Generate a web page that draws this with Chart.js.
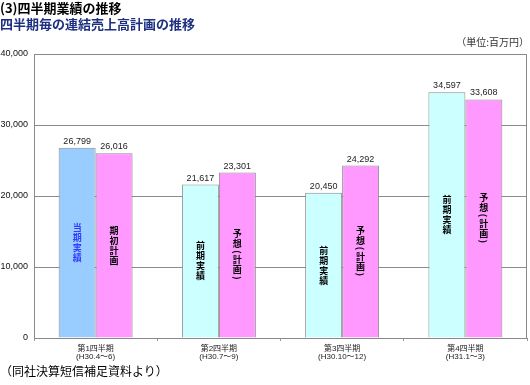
<!DOCTYPE html>
<html>
<head>
<meta charset="utf-8">
<script src="https://cdn.jsdelivr.net/npm/chart.js@4.4.1/dist/chart.umd.min.js"></script>
<style>
  body { margin: 0; background: #fff; }
  #wrap { position: relative; width: 530px; height: 385px; font-family: "Noto Sans CJK JP", sans-serif; }
  #grafica { position: absolute; left: 0; top: 0; }
  .txt { position: absolute; white-space: nowrap; line-height: 1; }
  #titulo { left: 0; top: 1px; font-size: 13px; font-weight: bold; color: #000; }
  #subtitulo { left: 0; top: 17px; font-size: 13px; font-weight: bold; color: #1c2f80; }
  #unidad { right: 1px; top: 37px; font-size: 10px; color: #333; }
  #fuente { left: 0; top: 365px; font-size: 12px; color: #000; }
</style>
</head>
<body>
<div id="wrap">
  <canvas id="grafica" width="530" height="385"></canvas>
  <div class="txt" id="titulo">(3)四半期業績の推移</div>
  <div class="txt" id="subtitulo">四半期毎の連結売上高計画の推移</div>
  <div class="txt" id="unidad">（単位:百万円）</div>
  <div class="txt" id="fuente">（同社決算短信補足資料より）</div>
</div>
<script>
// Datos del gráfico
var trimestres = [['第1四半期', '(H30.4～6)'], ['第2四半期', '(H30.7～9)'], ['第3四半期', '(H30.10～12)'], ['第4四半期', '(H31.1～3)']];
var valoresReales = [26799, 21617, 20450, 34597];
var valoresPlan = [26016, 23301, 24292, 33608];
var etiquetasReales = ['当期実績', '前期実績', '前期実績', '前期実績'];
var etiquetasPlan = ['期初計画', '予想(計画)', '予想(計画)', '予想(計画)'];
var coloresReales = ['#99ccff', '#ccffff', '#ccffff', '#ccffff'];
var coloresTextoReales = ['#2f3cff', '#000', '#000', '#000'];

var fuenteNum = '"Liberation Sans", Arial, "Noto Sans CJK JP", sans-serif';

// Marco alrededor del área del gráfico
var marco = {
    id: 'marco',
    afterDraw: function (chart) {
        var a = chart.chartArea, ctx = chart.ctx;
        ctx.save();
        ctx.strokeStyle = '#8a8a8a';
        ctx.lineWidth = 1;
        ctx.strokeRect(a.left + 0.5, a.top + 0.5, a.right - a.left - 1, a.bottom - a.top);
        ctx.restore();
    }
};

// Valores encima de las barras y texto vertical dentro
var etiquetas = {
    id: 'etiquetas',
    afterDatasetsDraw: function (chart) {
        var ctx = chart.ctx;
        ctx.save();
        chart.data.datasets.forEach(function (ds, i) {
            var meta = chart.getDatasetMeta(i);
            meta.data.forEach(function (bar, j) {
                // valor
                ctx.font = '9px ' + fuenteNum;
                ctx.fillStyle = '#222';
                ctx.textAlign = 'center';
                ctx.textBaseline = 'bottom';
                ctx.fillText(ds.data[j].toLocaleString('en-US'), bar.x, bar.y - 2);

                // texto vertical
                var texto = i === 0 ? etiquetasReales[j] : etiquetasPlan[j];
                var color = i === 0 ? coloresTextoReales[j] : '#000';
                var chars = texto.split('');
                var alturas = chars.map(function (c) { return (c === '(' || c === ')') ? 6 : 10; });
                var total = alturas.reduce(function (s, h) { return s + h; }, 0);
                var y = (bar.y + bar.base) / 2 - total / 2;
                ctx.font = 'bold 9px "Noto Sans CJK JP", sans-serif';
                ctx.fillStyle = color;
                ctx.textBaseline = 'middle';
                chars.forEach(function (c, k) {
                    var cy = y + alturas[k] / 2;
                    if (c === '(' || c === ')') {
                        ctx.save();
                        ctx.translate(bar.x, cy);
                        ctx.rotate(Math.PI / 2);
                        ctx.fillText(c, 0, 0);
                        ctx.restore();
                    } else {
                        ctx.fillText(c, bar.x, cy);
                    }
                    y += alturas[k];
                });
            });
        });
        ctx.restore();
    }
};

var ctx = document.getElementById('grafica').getContext('2d');
var grafica = new Chart(ctx, {
    type: 'bar',
    data: {
        labels: trimestres,
        datasets: [{
            data: valoresReales,
            backgroundColor: coloresReales,
            borderColor: '#8c8c8c',
            borderWidth: 1
        }, {
            data: valoresPlan,
            backgroundColor: '#ff99ff',
            borderColor: '#8c8c8c',
            borderWidth: 1
        }]
    },
    options: {
        responsive: false,
        animation: false,
        categoryPercentage: 0.6,
        barPercentage: 1.0,
        layout: { padding: { top: 54, right: 3, left: 0, bottom: 0 } },
        plugins: {
            legend: { display: false },
            tooltip: { enabled: false }
        },
        scales: {
            x: {
                afterFit: function (scale) { scale.height = 47; },
                grid: { drawOnChartArea: false, tickLength: 3, color: '#999' },
                border: { color: '#8a8a8a' },
                ticks: {
                    color: '#222',
                    padding: 3,
                    font: { size: 8, family: fuenteNum, lineHeight: 1.1 }
                }
            },
            y: {
                min: 0,
                max: 40000,
                afterFit: function (scale) { scale.width = 34; },
                grid: { color: '#8a8a8a', drawTicks: false },
                border: { color: '#8a8a8a' },
                ticks: {
                    stepSize: 10000,
                    color: '#111',
                    padding: 6,
                    font: { size: 9, family: fuenteNum },
                    callback: function (v) { return v.toLocaleString('en-US'); }
                }
            }
        }
    },
    plugins: [marco, etiquetas]
});
</script>
</body>
</html>
